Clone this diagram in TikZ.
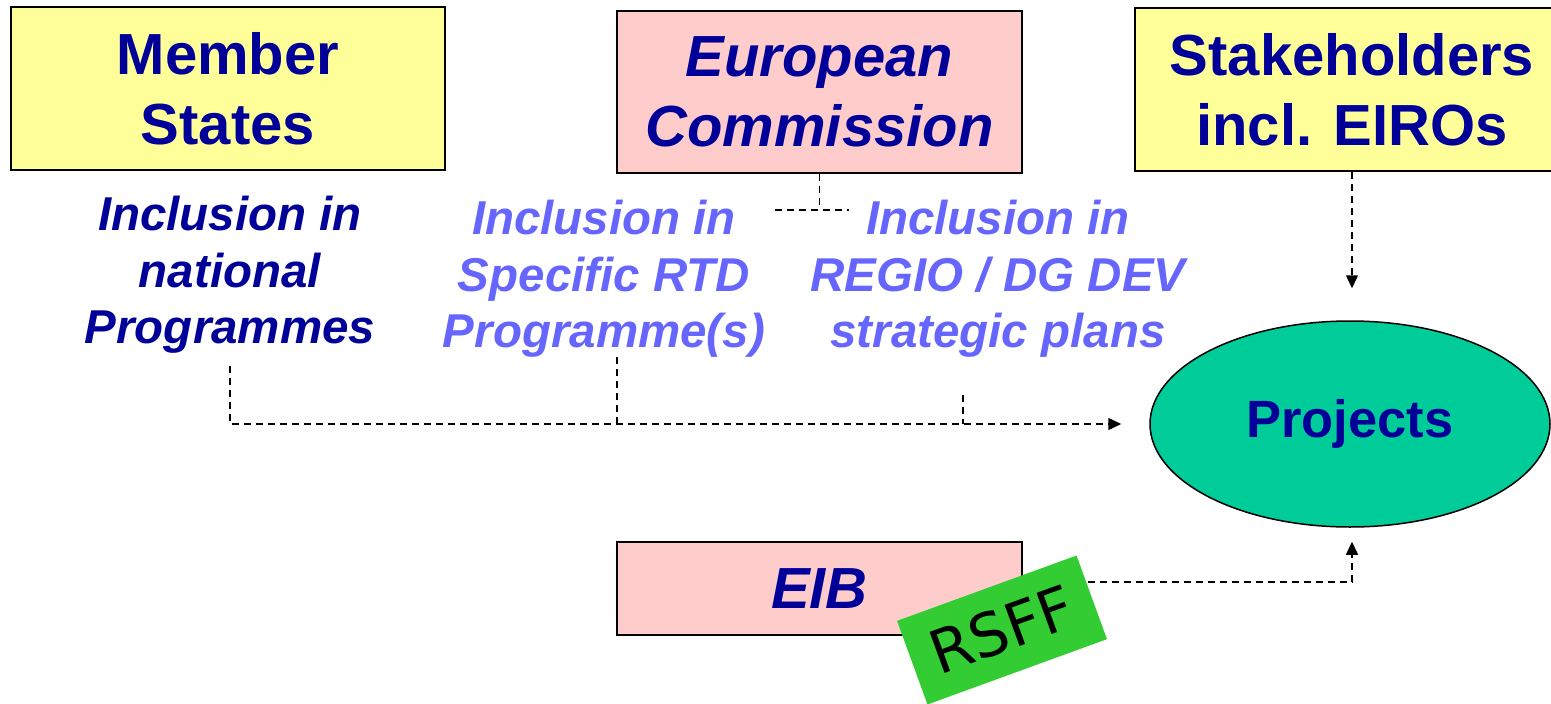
\documentclass[tikz,border=0pt]{standalone}
\usepackage{fontspec}
\setmainfont{Liberation Sans}
\newfontfamily\rsfffont{DejaVu Sans}
\usetikzlibrary{arrows.meta,shapes.geometric}
\definecolor{navy}{HTML}{000099}
\definecolor{lightnavy}{HTML}{6666FF}
\definecolor{yellowbg}{HTML}{FFFF99}
\definecolor{pinkbg}{HTML}{FFCCCC}
\definecolor{projgreen}{HTML}{00CC99}
\definecolor{rsffgreen}{HTML}{33CC33}
\tikzset{
  actor/.style={draw=black, line width=2pt, minimum width=434pt, minimum height=163pt,
    align=center, text=navy, font=\bfseries\fontsize{58}{70}\selectfont},
  body/.style={actor, font=\bfseries\itshape\fontsize{58}{70}\selectfont},
  incl/.style={inner sep=0pt, align=center, text=#1,
    font=\bfseries\itshape\fontsize{47.5}{56.5}\selectfont},
  link/.style={line width=1.5pt, dash pattern=on 7pt off 5pt},
  tip/.style={-{Triangle[length=13pt,width=12pt]}}
}
\begin{document}
\begin{tikzpicture}[x=1pt,y=-1pt]
  \useasboundingbox (0,0) rectangle (1551,704);
  \draw
    (228,88.5) node[actor, fill=yellowbg] (ms){Member\\States}
    (819.5,92) node[body, fill=pinkbg, minimum width=405pt, minimum height=162pt] (ec){European\\Commission}
    (1352,89.5) node[actor, fill=yellowbg] (sh){Stakeholders\\incl. EIROs}
    (230,275) node[incl=navy] (msincl){Inclusion in\\national\\Programmes}
    (604,279) node[incl=lightnavy] (rtdincl){Inclusion in\\Specific RTD\\Programme(s)}
    (998,279) node[incl=lightnavy] (regioincl){Inclusion in\\REGIO / DG DEV\\strategic plans}
    (1350,424) node[ellipse, draw=black, line width=1.5pt, fill=projgreen, minimum width=400pt,
      minimum height=206pt, text=navy, font=\bfseries\fontsize{52.5}{62}\selectfont] (projects){Projects}
    (819.5,588.5) node[body, fill=pinkbg, minimum width=405pt, minimum height=93pt] (eib){EIB}
    (1002,630) node[rotate=20, fill=rsffgreen, minimum width=191pt, minimum height=89pt,
      font=\rsfffont\fontsize{60}{70}\selectfont] (rsff){RSFF};
  \coordinate (ecjoin) at (819.5,210);
  \coordinate (ecleft) at (775,210);
  \coordinate (ecright) at (849,210);
  \coordinate (rtdfoot) at (617,357);
  \coordinate (regiofoot) at (963,395);
  \coordinate (rsffout) at (1088,582);
  \begin{scope}[link]
    \draw (ec.south) -- (ecjoin);
    \draw (ecleft) -- (ecright);
    \draw[tip, shorten >=28pt] ([yshift=-12pt]msincl.south) |- (projects.west);
    \draw (rtdfoot) -- (rtdfoot |- projects.west);
    \draw (regiofoot) -- (regiofoot |- projects.west);
    \draw[tip, shorten >=32pt] (sh.south) -- (sh.south |- projects.north);
    \draw[tip, shorten >=14pt] (rsffout) -| ([xshift=2pt]projects.south);
  \end{scope}
\end{tikzpicture}
\end{document}
